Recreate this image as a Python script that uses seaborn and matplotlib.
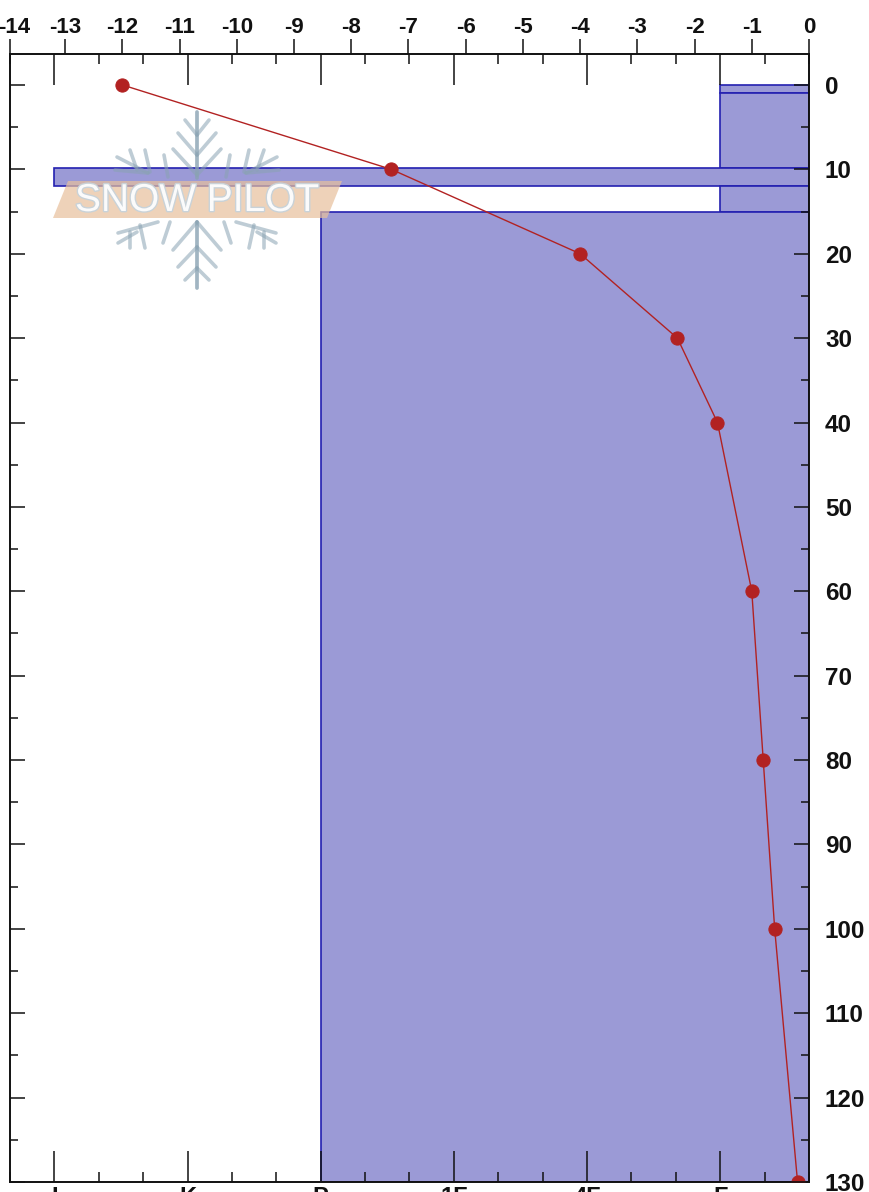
import numpy as np
import pandas as pd
import matplotlib
matplotlib.use('Agg')
import matplotlib.pyplot as plt
import seaborn as sns
from matplotlib.patches import Polygon
from matplotlib.transforms import ScaledTranslation
import matplotlib.patheffects as pe

# Perfil de temperatura
depth = [0, 10, 20, 30, 40, 60, 80, 100, 130]
temp = [-12, -7.3, -4, -2.3, -1.6, -1, -0.8, -0.6, -0.2]

# Capas de nieve: profundidad inicial, final y dureza
layer_top = [0, 1, 9.8, 12, 15]
layer_bottom = [1, 9.8, 12, 15, 130]
layer_hard = [1, 1, 6, 1, 4]

hard_labels = ['F', '4F', '1F', 'P', 'K', 'I']
temp_ticks = list(range(-13, 1))
depth_major = list(range(0, 131, 10))
depth_minor = list(range(5, 130, 10))

# Marca de agua, ramas del copo (mitad izquierda, en pixeles de la imagen)
flake = [
    [(197, 112), (197, 178)], [(185, 120), (197, 135)], [(178, 133), (197, 155)], [(173, 149), (197, 175)],
    [(197, 222), (197, 288)], [(173, 250), (197, 222)], [(178, 267), (197, 247)], [(185, 280), (197, 268)],
    [(117, 157), (148, 173)], [(115, 170), (148, 173)], [(130, 150), (137, 170)],
    [(145, 150), (150, 172)], [(164, 155), (168, 177)],
    [(158, 222), (118, 233)], [(140, 225), (145, 248)], [(130, 232), (130, 248)],
    [(118, 243), (137, 232)], [(170, 222), (163, 243)],
]

sns.set_style('ticks')
plt.rcParams['font.family'] = ['Liberation Sans', 'DejaVu Sans']
plt.rcParams['font.weight'] = 'bold'

W, H = 870, 1192
fig = plt.figure(figsize=(W / 100, H / 100), dpi=100)
ax2 = fig.add_axes([10 / W, 1 - 1182 / H, 799 / W, 1128 / H])
ax = ax2.twiny()

# Capas sobre el eje de dureza
h_right = 1 / 3
df_layers = pd.DataFrame({'top': layer_top, 'bottom': layer_bottom, 'hard': layer_hard})
ax2.barh(df_layers['top'], h_right - df_layers['hard'], left=df_layers['hard'],
         height=df_layers['bottom'] - df_layers['top'], align='edge',
         color='#9b9ad6', edgecolor='#2420b0', linewidth=1.2)
ax2.set_xlim(6 + 1 / 3, h_right)
ax2.set_ylim(130, -3.67)
ax2.set_axisbelow(False)

# Perfil de temperatura con seaborn
df_temp = pd.DataFrame({'temp': temp, 'depth': depth})
sns.lineplot(data=df_temp, x='temp', y='depth', orient='y', sort=False, ax=ax, color='#b22222',
             linewidth=1, marker='o', markersize=9.5, markeredgecolor='#b22222', errorbar=None)
ax.set_xlim(-13.965, 0)
ax.set_ylim(130, -3.67)
ax.set_xlabel('')
ax.set_ylabel('')
ax.set_zorder(ax2.get_zorder() + 1)
ax.patch.set_visible(False)

# Eje superior: temperatura
ax.xaxis.set_ticks_position('top')
ax.set_xticks([-13.965] + temp_ticks)
ax.set_xticklabels(['-14'] + [str(t) for t in temp_ticks])
ax.tick_params(axis='x', which='major', direction='out', length=10.8, width=1.1, pad=1,
               labelsize=16, color='#111111', labelcolor='#111111')
first = ax.get_xticklabels()[0]
first.set_transform(first.get_transform() + ScaledTranslation(4 / 100, 0, fig.dpi_scale_trans))

# Ejes de dureza, arriba y abajo, ticks hacia dentro
ax2.set_xticks(range(1, 7))
ax2.set_xticklabels(hard_labels)
ax2.set_xticks([h / 3 for h in range(1, 20) if h % 3 != 0], minor=True)
ax2.tick_params(axis='x', which='major', direction='in', top=True, bottom=True, labelbottom=True, labeltop=False,
                length=22, width=1.1, pad=3, labelsize=17, color='#111111', labelcolor='#111111')
ax2.tick_params(axis='x', which='minor', direction='in', top=True, bottom=True, length=7, width=1.1, color='#111111')

# Profundidad a la derecha, ticks a ambos lados
ax2.set_yticks(depth_major)
ax2.set_yticks(depth_minor, minor=True)
ax2.tick_params(axis='y', which='major', direction='in', left=True, right=True, labelleft=False, labelright=True,
                length=10.8, width=1.1, pad=11.5, labelsize=17.5, color='#111111', labelcolor='#111111')
ax2.tick_params(axis='y', which='minor', direction='in', left=True, right=True, length=5.5, width=1.1, color='#111111')
ax.tick_params(axis='y', left=False, right=False, labelleft=False, labelright=False)

for a in (ax, ax2):
    for s in a.spines.values():
        s.set_linewidth(1.2)
        s.set_color('#111111')

# Marca de agua SNOW PILOT
wm = fig.add_axes([0, 0, 1, 1], zorder=10)
wm.set_xlim(0, W)
wm.set_ylim(H, 0)
wm.axis('off')
for seg in flake:
    xs, ys = zip(*seg)
    wm.plot(xs, ys, color='#8aa3b3', alpha=0.55, lw=2.6, solid_capstyle='round')
    wm.plot([394 - x for x in xs], ys, color='#8aa3b3', alpha=0.55, lw=2.6, solid_capstyle='round')
wm.add_patch(Polygon([(53, 218), (68, 181), (342, 181), (327, 218)], closed=True,
                     facecolor='#e8c09c', edgecolor='none', alpha=0.7))
wm.text(197, 201, 'SNOW PILOT', ha='center', va='center', fontsize=28, fontweight='normal', color='#fbfbfb',
        path_effects=[pe.withStroke(linewidth=2, foreground='#c9d2d8')])

fig.savefig('out.png', dpi=100)
